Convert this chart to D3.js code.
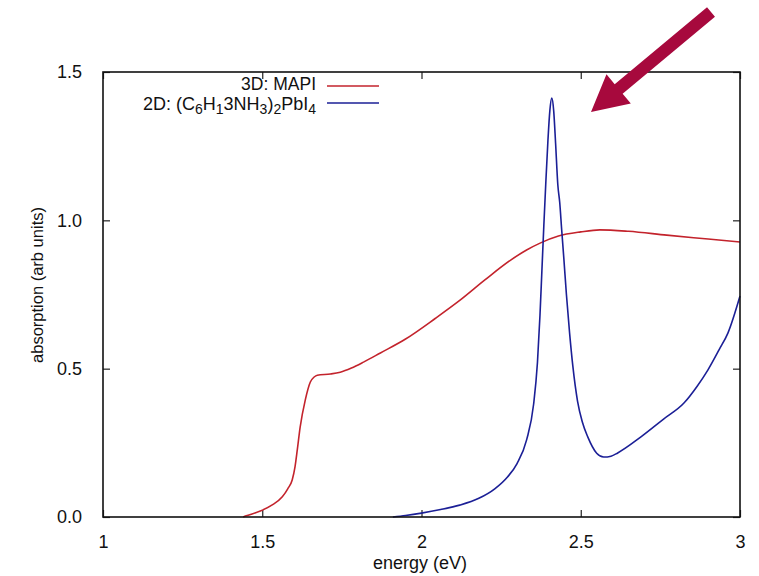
<!DOCTYPE html>
<html>
<head>
<meta charset="utf-8">
<script src="https://cdn.jsdelivr.net/npm/d3@7"></script>
<style>
  html, body { margin: 0; padding: 0; background: #fff; }
  svg { display: block; font-family: "Liberation Sans", Arial, sans-serif; }
</style>
</head>
<body>
<svg id="chart" width="759" height="576"></svg>
<script>
// Absorption spectra: 3D MAPI vs 2D layered perovskite
const mapiEnergy = [1.44, 1.447, 1.494, 1.53, 1.563, 1.58, 1.594, 1.603, 1.61, 1.619, 1.635, 1.651, 1.663, 1.673, 1.714, 1.745, 1.78, 1.818, 1.871, 1.95, 2.044, 2.12, 2.2, 2.28, 2.33, 2.374, 2.43, 2.5, 2.56, 2.65, 2.77, 2.9, 3.0];
const mapiAbs    = [0.0, 0.003, 0.02, 0.04, 0.068, 0.095, 0.125, 0.17, 0.226, 0.303, 0.394, 0.455, 0.472, 0.478, 0.482, 0.488, 0.502, 0.522, 0.553, 0.60, 0.67, 0.73, 0.80, 0.866, 0.90, 0.924, 0.947, 0.961, 0.968, 0.963, 0.95, 0.937, 0.927];

const layeredEnergy = [1.91, 1.95, 2.0, 2.06, 2.12, 2.18, 2.23, 2.27, 2.30, 2.33, 2.352, 2.364, 2.372, 2.378, 2.384, 2.39, 2.397, 2.403, 2.409, 2.415, 2.421, 2.428, 2.434, 2.44, 2.447, 2.455, 2.465, 2.475, 2.49, 2.505, 2.522, 2.55, 2.572, 2.595, 2.616, 2.689, 2.76, 2.824, 2.865, 2.899, 2.935, 2.962, 3.0];
const layeredAbs    = [0.0, 0.005, 0.013, 0.025, 0.04, 0.063, 0.095, 0.135, 0.18, 0.26, 0.38, 0.52, 0.68, 0.83, 0.98, 1.12, 1.27, 1.37, 1.412, 1.37, 1.26, 1.12, 1.06, 0.97, 0.87, 0.75, 0.62, 0.51, 0.39, 0.32, 0.27, 0.215, 0.202, 0.205, 0.216, 0.27, 0.33, 0.384, 0.44, 0.495, 0.565, 0.62, 0.745];

const xTicks = [1, 1.5, 2, 2.5, 3];
const xTickLabels = ["1", "1.5", "2", "2.5", "3"];
const yTicks = [0, 0.5, 1.0, 1.5];
const yTickLabels = ["0.0", "0.5", "1.0", "1.5"];

const W = 759, H = 576;
const margin = { top: 72, right: 19, bottom: 59, left: 103 };
const iw = W - margin.left - margin.right;
const ih = H - margin.top - margin.bottom;

const svg = d3.select("#chart");
const g = svg.append("g").attr("transform", `translate(${margin.left},${margin.top})`);

const x = d3.scaleLinear().domain([1, 3]).range([0, iw]);
const y = d3.scaleLinear().domain([0, 1.5]).range([ih, 0]);

const tickLen = 7;
const fontSize = 18;

// Axes with inward ticks on all four sides
const axisBottom = d3.axisBottom(x).tickValues(xTicks).tickSize(-tickLen).tickPadding(tickLen + 11)
  .tickFormat((d, i) => xTickLabels[i]);
const axisTop = d3.axisTop(x).tickValues(xTicks).tickSize(-tickLen).tickFormat("");
const axisLeft = d3.axisLeft(y).tickValues(yTicks).tickSize(-tickLen).tickPadding(tickLen + 14)
  .tickFormat((d, i) => yTickLabels[i]);
const axisRight = d3.axisRight(y).tickValues(yTicks).tickSize(-tickLen).tickFormat("");

function styleAxis(sel) {
  sel.select(".domain").remove();
  sel.selectAll(".tick line").attr("stroke", "#222").attr("stroke-width", 1.2);
  sel.selectAll(".tick text").attr("fill", "#111").style("font-size", fontSize + "px")
    .style("font-family", "'Liberation Sans', Arial, sans-serif");
}

g.append("g").attr("transform", `translate(0,${ih})`).call(axisBottom).call(styleAxis);
g.append("g").call(axisTop).call(styleAxis);
g.append("g").call(axisLeft).call(styleAxis);
g.append("g").attr("transform", `translate(${iw},0)`).call(axisRight).call(styleAxis);

// Data lines
const line = d3.line().x(d => x(d[0])).y(d => y(d[1])).curve(d3.curveMonotoneX);

const mapiData = mapiEnergy.map((e, i) => [e, mapiAbs[i]]);
const layeredData = layeredEnergy.map((e, i) => [e, layeredAbs[i]]);

g.append("path").datum(mapiData).attr("d", line)
  .attr("fill", "none").attr("stroke", "#c3232c").attr("stroke-width", 1.6);
g.append("path").datum(layeredData).attr("d", line)
  .attr("fill", "none").attr("stroke", "#1b1f96").attr("stroke-width", 1.6);

// Frame
g.append("rect").attr("x", 0).attr("y", 0).attr("width", iw).attr("height", ih)
  .attr("fill", "none").attr("stroke", "#111").attr("stroke-width", 1.6);

// Axis titles
svg.append("text").attr("x", 420).attr("y", 569)
  .attr("text-anchor", "middle").style("font-size", "18px").attr("fill", "#111")
  .text("energy (eV)");
svg.append("text").attr("transform", "translate(43,285) rotate(-90)")
  .attr("text-anchor", "middle").style("font-size", "16.5px").attr("fill", "#111")
  .text("absorption (arb units)");

// Legend
const legend = g.append("g").attr("transform", "translate(213,0)");
const legendItems = [
  { color: "#c3232c", dy: 14 },
  { color: "#1b1f96", dy: 31 }
];
legendItems.forEach(it => {
  legend.append("line").attr("x1", 11).attr("x2", 63).attr("y1", it.dy).attr("y2", it.dy)
    .attr("stroke", it.color).attr("stroke-width", 1.6);
});
legend.append("text").attr("x", 0).attr("y", 18).attr("text-anchor", "end")
  .style("font-size", "17.5px").attr("fill", "#111").text("3D: MAPI");

const t2 = legend.append("text").attr("x", 0).attr("y", 38).attr("text-anchor", "end")
  .style("font-size", "18px").attr("fill", "#111");
const parts = [
  ["2D: (C", false], ["6", true], ["H", false], ["1", true], ["3NH", false], ["3", true],
  [")", false], ["2", true], ["PbI", false], ["4", true]
];
parts.forEach(([s, sub], i) => {
  const ts = t2.append("tspan").text(s);
  if (sub) ts.attr("dy", 4).style("font-size", "14px");
  else if (i > 0) ts.attr("dy", -4);
});

// Pointer arrow
const tail = [711, 12], tip = [591, 112];
const dx = tip[0] - tail[0], dy = tip[1] - tail[1];
const len = Math.hypot(dx, dy);
const ux = dx / len, uy = dy / len;
const nx = -uy, ny = ux;
const shaftHalf = 6.2, headHalf = 19, headLen = 36;
const bx = tip[0] - ux * headLen, by = tip[1] - uy * headLen;
const pts = [
  [tail[0] + nx * shaftHalf, tail[1] + ny * shaftHalf],
  [bx + nx * shaftHalf, by + ny * shaftHalf],
  [bx + nx * headHalf, by + ny * headHalf],
  tip,
  [bx - nx * headHalf, by - ny * headHalf],
  [bx - nx * shaftHalf, by - ny * shaftHalf],
  [tail[0] - nx * shaftHalf, tail[1] - ny * shaftHalf]
];
svg.append("path").attr("d", "M" + pts.map(p => p.join(",")).join("L") + "Z")
  .attr("fill", "#a7093d");
</script>
</body>
</html>
